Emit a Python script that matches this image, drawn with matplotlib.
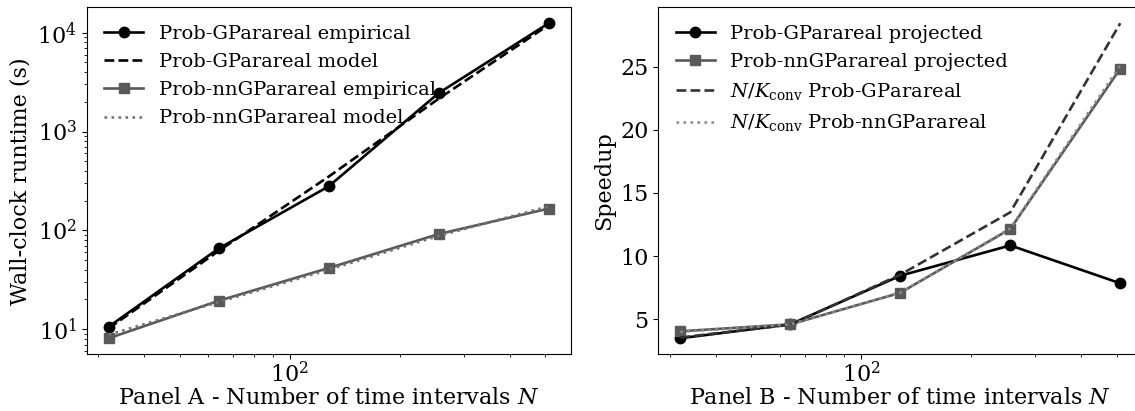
import numpy as np
import matplotlib
matplotlib.use('Agg')
import matplotlib.pyplot as plt

plt.rcParams['font.family'] = 'DejaVu Serif'
plt.rcParams['mathtext.fontset'] = 'dejavuserif'
plt.rcParams['font.size'] = 16
plt.rcParams['xtick.major.pad'] = 2

# number of time intervals
N = [32, 64, 128, 256, 512]

# wall-clock runtimes (s)
gp_emp = [10.6, 65.6, 279, 2450, 12470]
gp_model = [10.2, 62, 350, 2150, 12000]
nngp_emp = [8.1, 19.4, 41.6, 91.8, 166]
nngp_model = [8.8, 18.8, 40, 88, 175]

# speedups
gp_proj = [3.5, 4.6, 8.45, 10.85, 7.85]
nngp_proj = [4.05, 4.6, 7.1, 12.15, 24.85]
gp_nk = [3.56, 4.57, 8.53, 13.47, 28.44]
nngp_nk = [4.0, 4.6, 7.1, 12.2, 25.1]

gray = '0.35'
lw = 1.9

fig = plt.figure(figsize=(11.35, 4.11), dpi=100)
ax1 = fig.add_axes([0.0764, 0.1387, 0.4264, 0.8431])
ax2 = fig.add_axes([0.5800, 0.1387, 0.4264, 0.8431])

leg_kw = dict(loc='upper left', frameon=False, fontsize=14, labelspacing=0.52,
              borderaxespad=0.5, handlelength=2.0)

# Panel A: runtimes
ax1.plot(N, gp_emp, '-o', color='k', lw=lw, ms=7.5, label='Prob-GParareal empirical')
ax1.plot(N, gp_model, '--', color='k', lw=lw, label='Prob-GParareal model')
ax1.plot(N, nngp_emp, '-s', color=gray, lw=lw, ms=7.5, label='Prob-nnGParareal empirical')
ax1.plot(N, nngp_model, ':', color='0.45', lw=lw, label='Prob-nnGParareal model')
ax1.set_xscale('log')
ax1.set_yscale('log')
ax1.set_ylabel('Wall-clock runtime (s)')
ax1.set_xlabel('Panel A - Number of time intervals $N$', labelpad=0)
ax1.legend(**leg_kw)

# Panel B: speedups
ax2.plot(N, gp_proj, '-o', color='k', lw=lw, ms=7.5, label='Prob-GParareal projected')
ax2.plot(N, nngp_proj, '-s', color=gray, lw=lw, ms=7.5, label='Prob-nnGParareal projected')
ax2.plot(N, gp_nk, '--', color='0.2', lw=lw, label=r'$N/K_{\mathrm{conv}}$ Prob-GParareal')
ax2.plot(N, nngp_nk, ':', color='0.55', lw=lw, label=r'$N/K_{\mathrm{conv}}$ Prob-nnGParareal')
ax2.set_xscale('log')
ax2.set_yticks([5, 10, 15, 20, 25])
ax2.set_ylabel('Speedup')
ax2.set_xlabel('Panel B - Number of time intervals $N$', labelpad=0)
ax2.legend(**leg_kw)

fig.savefig('out.png', dpi=100)
